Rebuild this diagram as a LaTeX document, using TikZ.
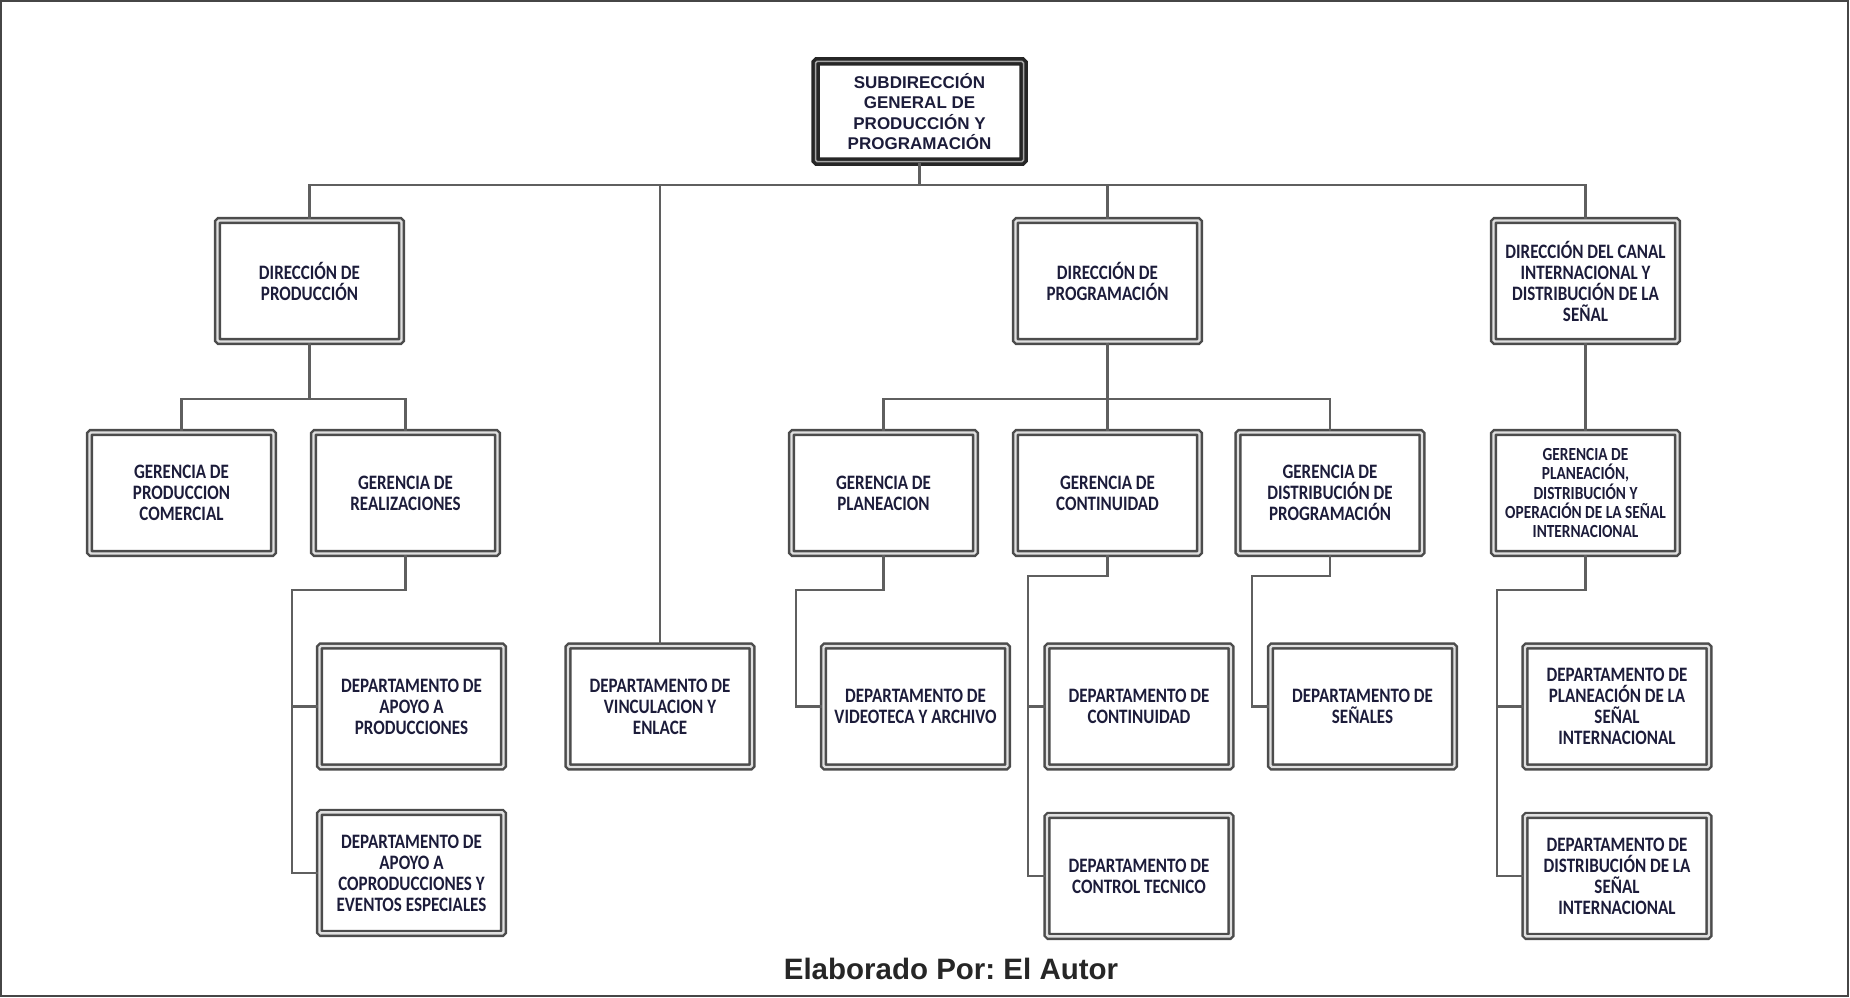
\documentclass[tikz,border=0pt]{standalone}
\usepackage{fontspec}
\setmainfont{Carlito}
\newfontfamily\boxfont[FakeStretch=0.83]{Carlito}
\newfontfamily\headfont{Liberation Sans}
\usetikzlibrary{positioning}
\definecolor{inkblue}{RGB}{28,28,58}
\definecolor{linkgray}{RGB}{95,95,95}
\definecolor{framegray}{RGB}{70,70,70}

\begin{document}
\begin{tikzpicture}[x=1pt,y=-1pt,
  unit node/.style={draw=black!70, line width=2.4pt, double=black!12, double distance=2.4pt, rounded corners=1.5pt,
    minimum width=184pt, minimum height=121pt, inner sep=2pt, align=center, text=inkblue,
    font=\boxfont\bfseries\fontsize{20.5}{21}\selectfont},
  top node/.style={draw=black!85, line width=3.5pt, double=black!35, double distance=1.5pt, rounded corners=1.5pt,
    minimum width=208pt, minimum height=100pt, inner sep=2pt, align=center, text=inkblue,
    font=\headfont\bfseries\fontsize{17}{20.5}\selectfont},
  every edge/.style={draw=linkgray, line width=2.4pt},
  link/.style={draw=linkgray, line width=2.4pt},
  bus/.style={to path={-- ++(0,#1) -| (\tikztotarget)}}]
  \useasboundingbox (0,0) rectangle (1850,998);
  \draw[framegray, line width=2pt] (1,1) rectangle (1848,996);

  \node[top node] (sub) at (919.5,111.5) {SUBDIRECCIÓN\\GENERAL DE\\PRODUCCIÓN Y\\PROGRAMACIÓN};

  % directions
  \node[unit node] (dirprod) at (309.5,281) {DIRECCIÓN DE\\PRODUCCIÓN};
  \node[unit node] (dirprog) at (1107.5,281) {DIRECCIÓN DE\\PROGRAMACIÓN};
  \node[unit node] (dircanal) at (1585.5,281) {DIRECCIÓN DEL CANAL\\INTERNACIONAL Y\\DISTRIBUCIÓN DE LA\\SEÑAL};

  % gerencias
  \node[unit node] (gpc) at (181.5,493) {GERENCIA DE\\PRODUCCION\\COMERCIAL};
  \node[unit node] (greal) at (405.5,493) {GERENCIA DE\\REALIZACIONES};
  \node[unit node] (gplan) at (883.5,493) {GERENCIA DE\\PLANEACION};
  \node[unit node] (gcont) at (1107.5,493) {GERENCIA DE\\CONTINUIDAD};
  \node[unit node] (gdist) at (1330,493) {GERENCIA DE\\DISTRIBUCIÓN DE\\PROGRAMACIÓN};
  \node[unit node, font=\boxfont\bfseries\fontsize{18.5}{19.2}\selectfont] (gintl) at (1585.5,493)
    {GERENCIA DE\\PLANEACIÓN,\\DISTRIBUCIÓN Y\\OPERACIÓN DE LA SEÑAL\\INTERNACIONAL};

  % departamentos
  \node[unit node] (dapoyo) at (411.5,706.5) {DEPARTAMENTO DE\\APOYO A\\PRODUCCIONES};
  \node[unit node, below=43pt of dapoyo] (dcopro) {DEPARTAMENTO DE\\APOYO A\\COPRODUCCIONES Y\\EVENTOS ESPECIALES};
  \node[unit node] (dvinc) at (660,706.5) {DEPARTAMENTO DE\\VINCULACION Y\\ENLACE};
  \node[unit node] (dvideo) at (915.5,706.5) {DEPARTAMENTO DE\\VIDEOTECA Y ARCHIVO};
  \node[unit node] (dcont) at (1139,706.5) {DEPARTAMENTO DE\\CONTINUIDAD};
  \node[unit node, below=46pt of dcont] (dctrl) {DEPARTAMENTO DE\\CONTROL TECNICO};
  \node[unit node] (dsen) at (1362.5,706.5) {DEPARTAMENTO DE\\SEÑALES};
  \node[unit node] (dplans) at (1617,706.5) {DEPARTAMENTO DE\\PLANEACIÓN DE LA\\SEÑAL\\INTERNACIONAL};
  \node[unit node, below=46pt of dplans] (ddists) {DEPARTAMENTO DE\\DISTRIBUCIÓN DE LA\\SEÑAL\\INTERNACIONAL};

  \node[font=\headfont\bfseries\fontsize{29.5}{33}\selectfont\frenchspacing, text=black!85] (credit) at (951,969) {Elaborado Por: El Autor};

  \path
  (sub.south) edge[bus=22] (dirprod.north)
  (sub.south) edge[bus=22] (dvinc.north)
  (sub.south) edge[bus=22] (dirprog.north)
  (sub.south) edge[bus=22] (dircanal.north)
  (dirprod.south) edge[bus=56] (gpc.north)
  (dirprod.south) edge[bus=56] (greal.north)
  (dirprog.south) edge[bus=56] (gplan.north)
  (dirprog.south) edge[bus=56] (gcont.north)
  (dirprog.south) edge[bus=56] (gdist.north)
  (dircanal.south) edge (gintl.north)
  ;

  \draw[link] (greal.south) -- ++(0,35.5) -| ([xshift=-26.5pt]dcopro.west) -- (dcopro.west);
  \draw[link] (dapoyo.west) -- ++(-26.5,0);
  \draw[link] (gplan.south) -- ++(0,35.5) -| ([xshift=-26.5pt]dvideo.west) -- (dvideo.west);
  \draw[link] (gcont.south) -- ++(0,21.5) -| ([xshift=-18pt]dctrl.west) -- (dctrl.west);
  \draw[link] (dcont.west) -- ++(-18,0);
  \draw[link] (gdist.south) -- ++(0,21.5) -| ([xshift=-17.5pt]dsen.west) -- (dsen.west);
  \draw[link] (gintl.south) -- ++(0,35.5) -| ([xshift=-27pt]ddists.west) -- (ddists.west);
  \draw[link] (dplans.west) -- ++(-27,0);
\end{tikzpicture}
\end{document}
